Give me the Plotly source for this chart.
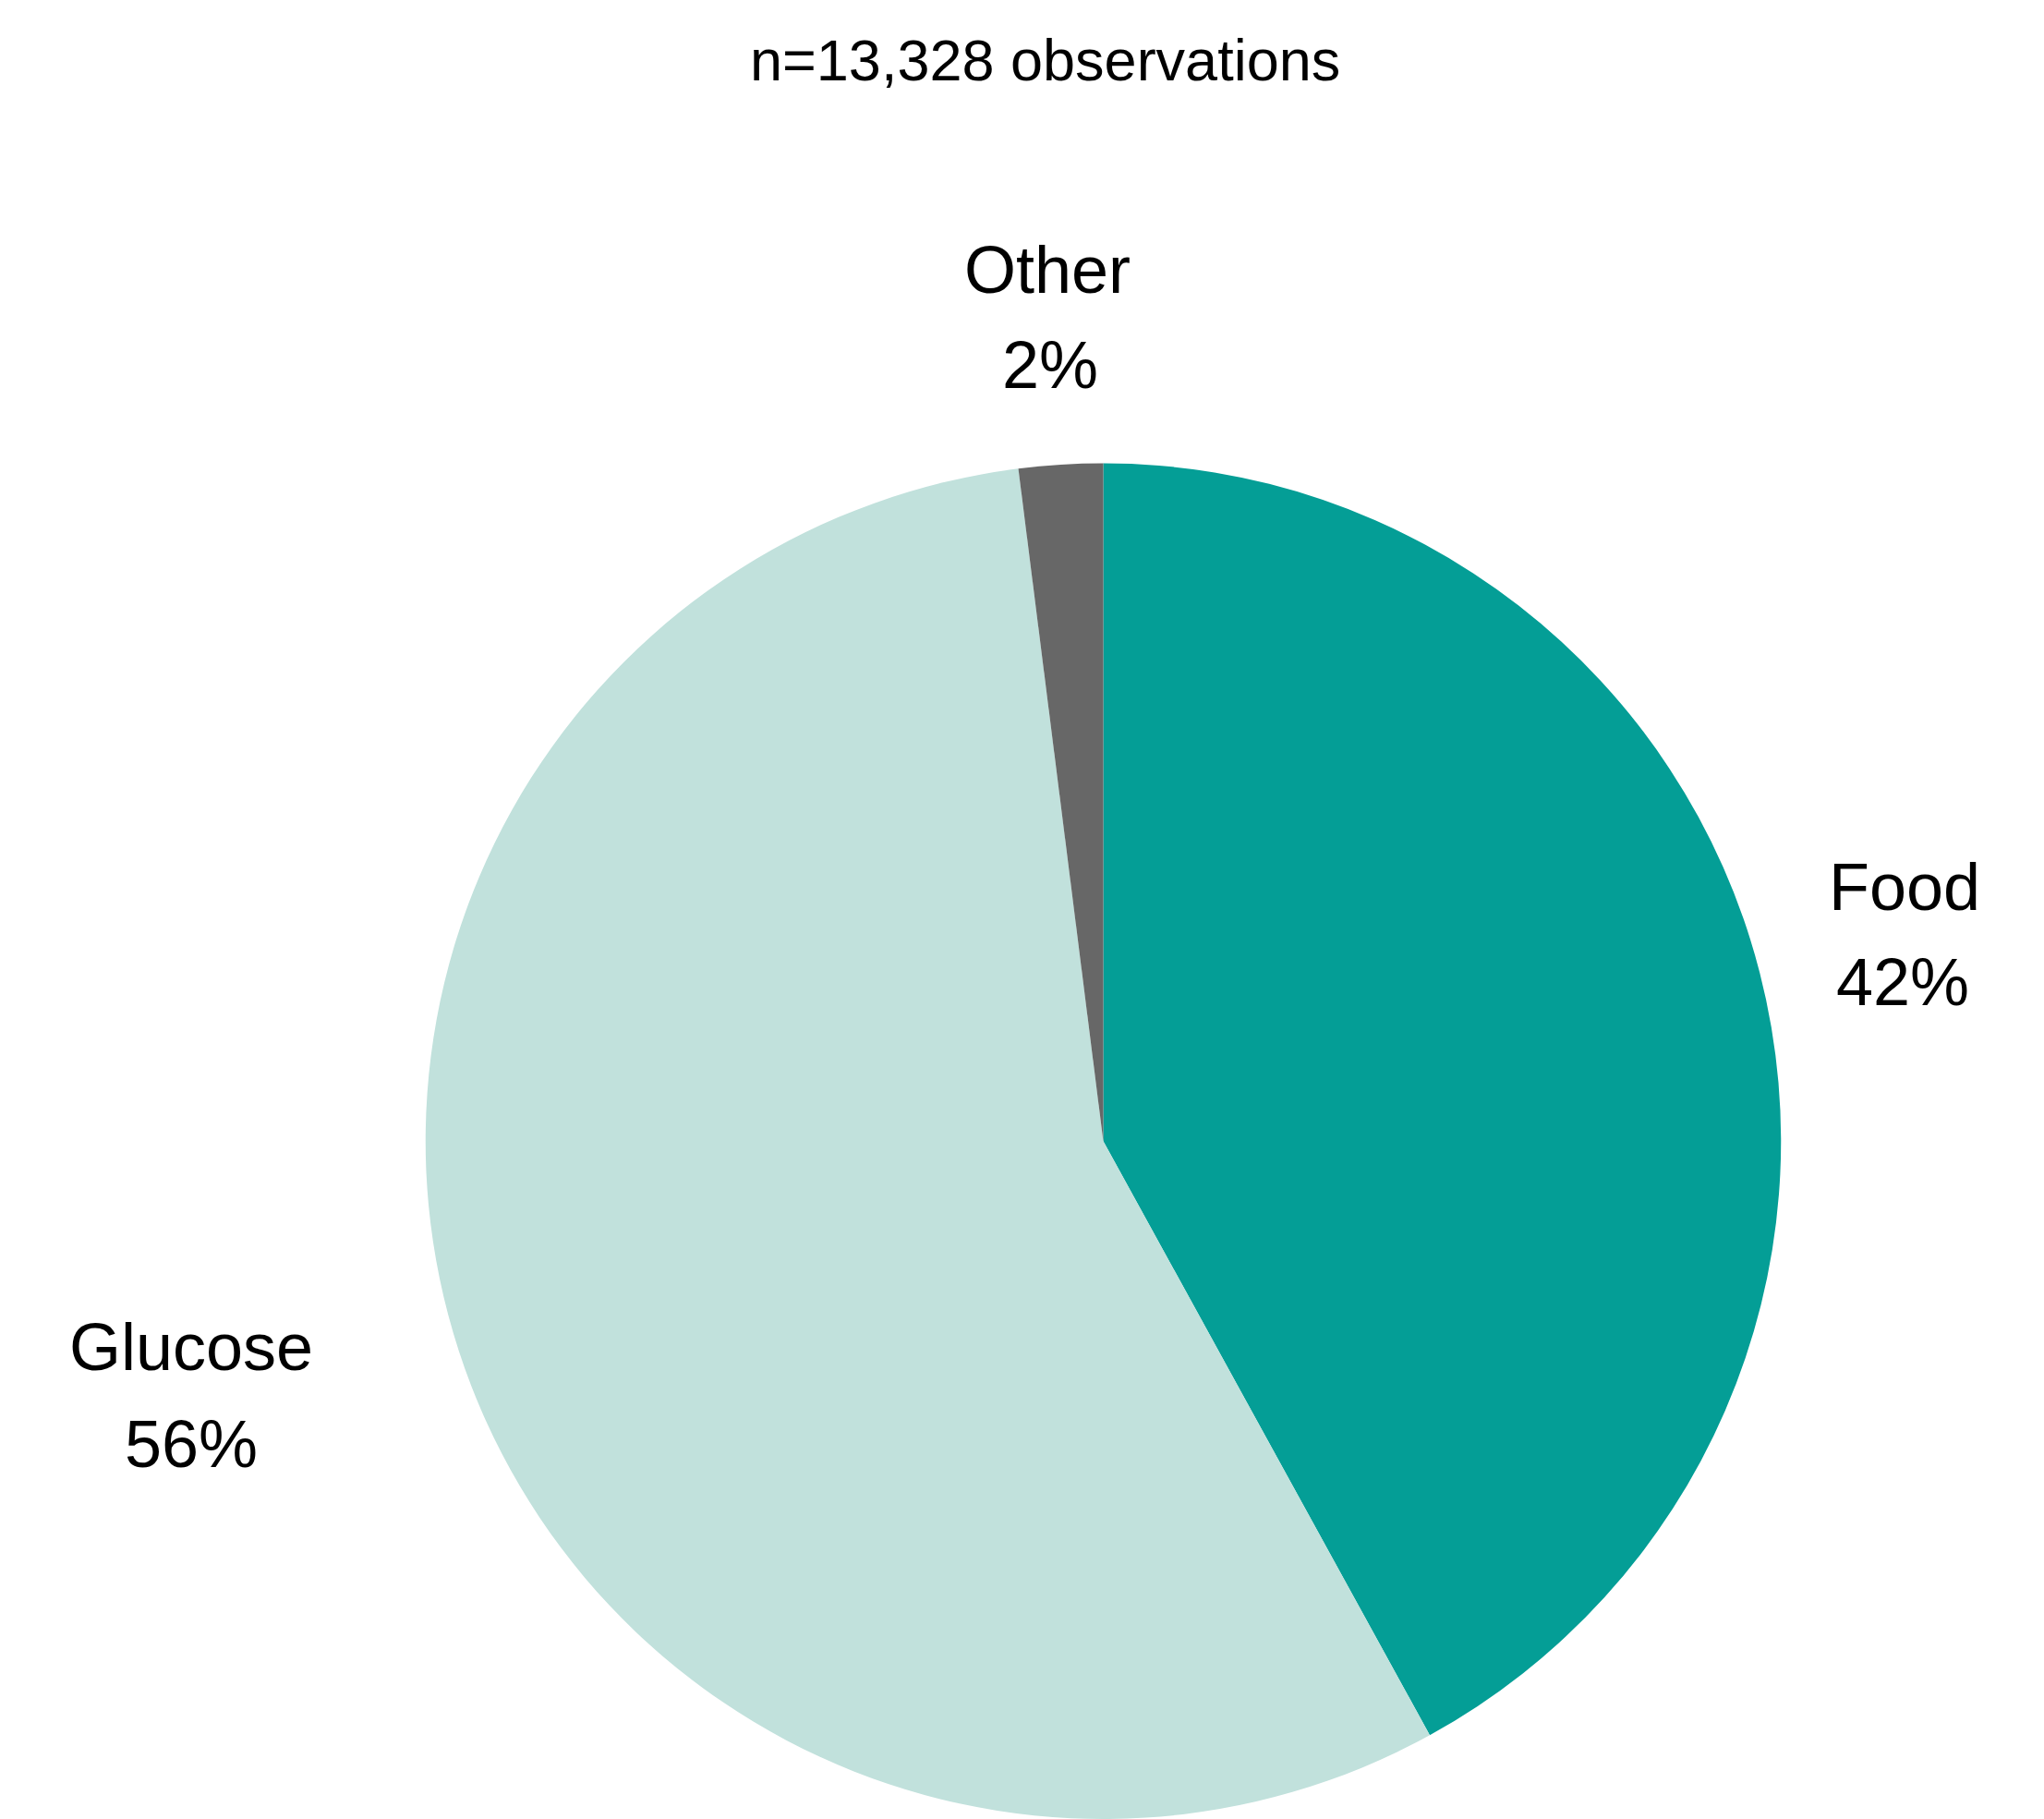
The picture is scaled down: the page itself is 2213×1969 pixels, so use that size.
import plotly.graph_objects as go

# Data
categories = ["Food", "Glucose", "Other"]
shares = [42, 56, 2]
colors = ["#049E96", "#C1E1DC", "#676767"]
title_text = "n=13,328 observations"

W, H = 2213, 1969

# Label placement (pixel centers / baselines for name and percentage lines)
label_pos = {
    "Food": (2062, 985, 2060, 1088),
    "Glucose": (207, 1483, 207, 1588),
    "Other": (1134, 317, 1137, 420),
}

cx, top_y = 1194.5, 501.5
r = (H - top_y) / 2.0

fig = go.Figure(
    go.Pie(
        labels=categories,
        values=shares,
        marker=dict(colors=colors, line=dict(width=0)),
        sort=False,
        direction="clockwise",
        rotation=0,
        textinfo="none",
        hoverinfo="label+percent",
        showlegend=False,
        domain=dict(x=[(cx - r) / W, (cx + r) / W], y=[0, (H - top_y) / H]),
    )
)

FONT = "Liberation Sans, Arial, Helvetica, sans-serif"
LFS = 72
annotations = []

def add_text(text, xpx, baseline, size):
    ymid = baseline - 0.3465 * size
    annotations.append(dict(
        text=text, x=xpx / W, y=1 - ymid / H, xref="paper", yref="paper",
        xanchor="center", yanchor="middle", showarrow=False,
        font=dict(family=FONT, size=size, color="black"),
    ))

for cat, val in zip(categories, shares):
    nx, nb, px, pb = label_pos[cat]
    add_text(cat, nx, nb, LFS)
    add_text(f"{val}%", px, pb, LFS)

add_text(title_text, 1131, 87, 63)

fig.update_layout(
    width=W, height=H,
    margin=dict(l=0, r=0, t=0, b=0),
    paper_bgcolor="white", plot_bgcolor="white",
    annotations=annotations,
    font=dict(family=FONT),
)

fig.write_html("out.html", config={"displayModeBar": False},
               post_script="document.body.style.margin='0';")
